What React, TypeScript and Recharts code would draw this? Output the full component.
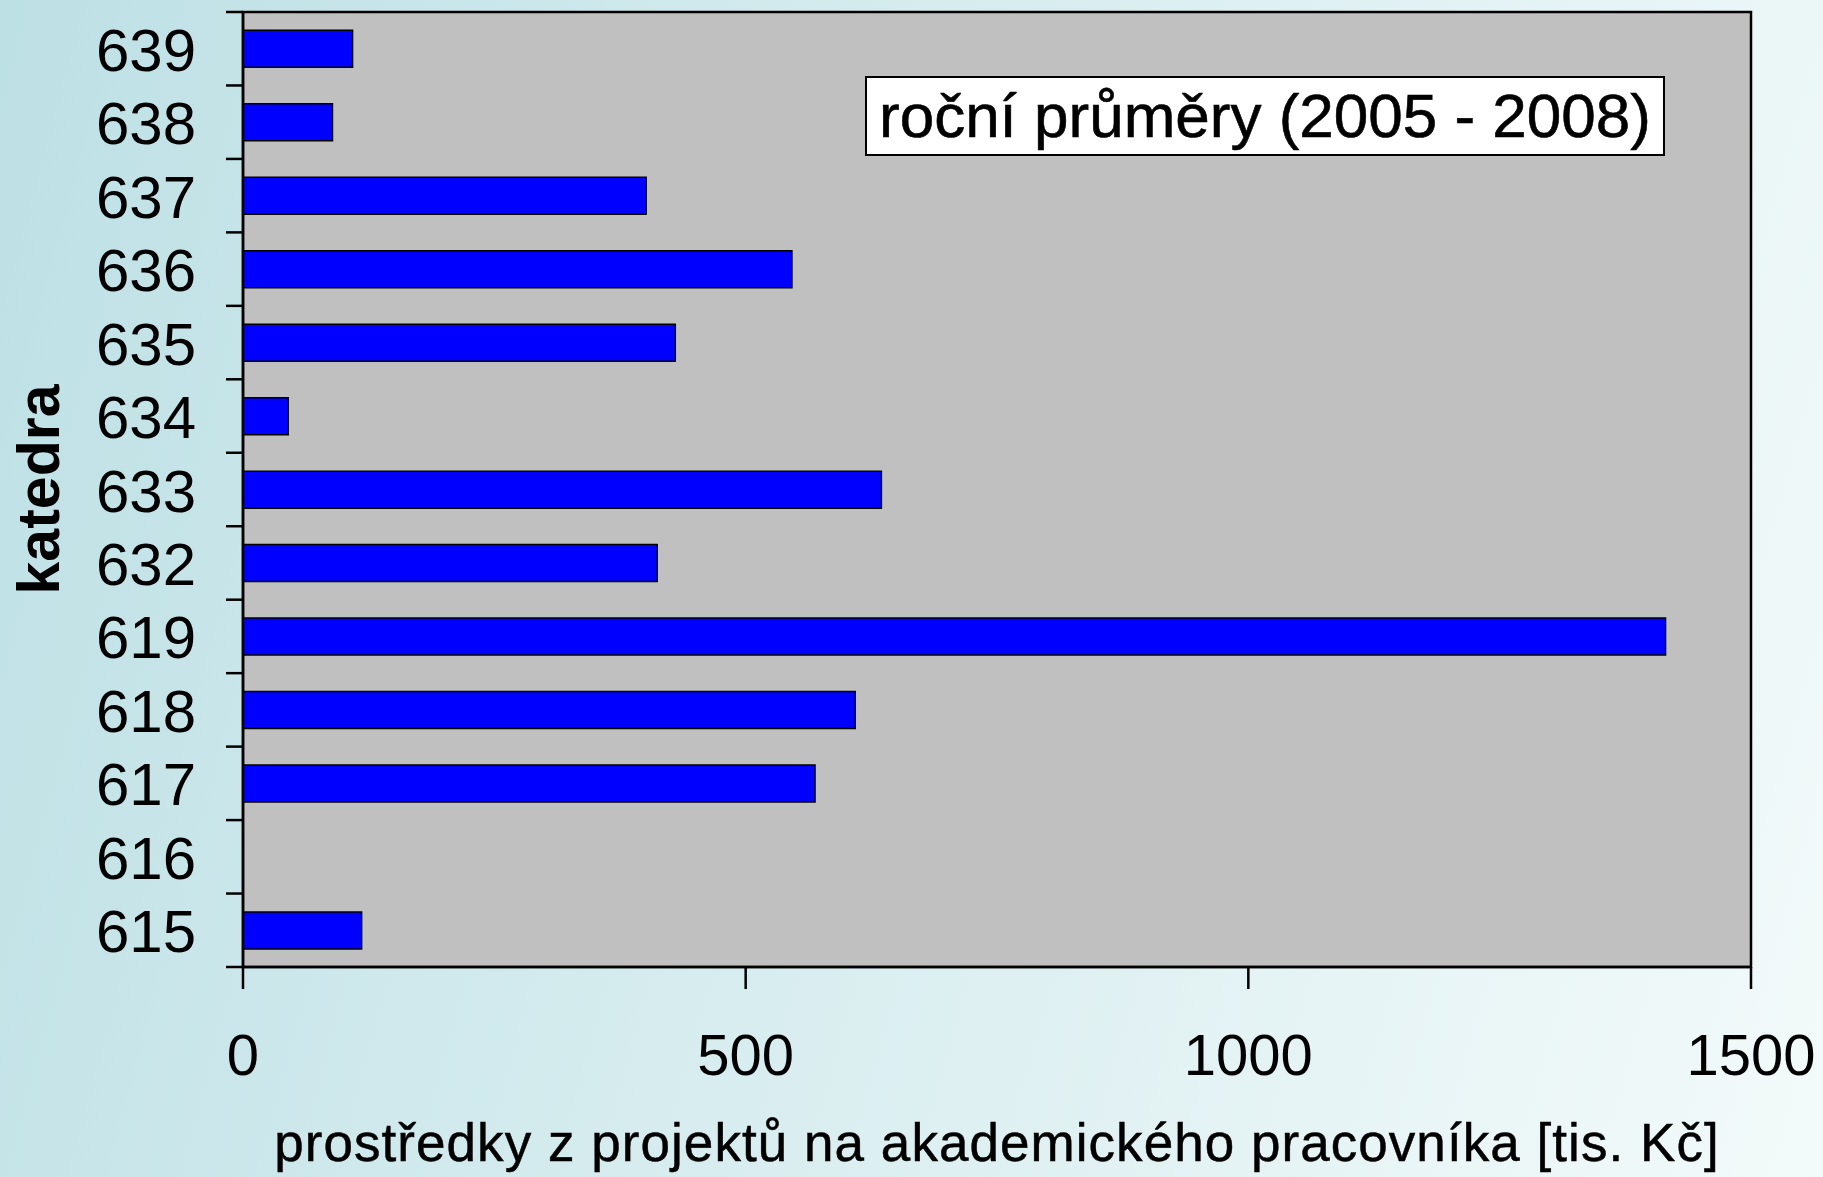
import { BarChart, Bar, XAxis, YAxis, CartesianGrid, ReferenceArea } from 'recharts';

const katedry = ['639', '638', '637', '636', '635', '634', '633', '632', '619', '618', '617', '616', '615'];
const prumery = [109, 89, 401, 546, 430, 45, 635, 412, 1415, 609, 569, 0, 118];
const xTicks = [0, 500, 1000, 1500];

const data = katedry.map((k, i) => ({ katedra: k, value: prumery[i] }));

const W = 1823;
const H = 1177;
const M = { top: 12, right: 72, bottom: 0, left: 0 };
const Y_AXIS_W = 243;
const X_AXIS_H = 210;
const plotH = H - M.top - X_AXIS_H;
const halfBand = plotH / katedry.length / 2;
const FONT = 'Arial, "Liberation Sans", sans-serif';

function CatTick(props: any) {
  const { y, payload, index } = props;
  const ax = Y_AXIS_W;
  const half = payload?.offset || halfBand;
  const last = index === katedry.length - 1;
  return (
    <g>
      <line x1={ax - 17} x2={ax} y1={y - half} y2={y - half} stroke="#000" strokeWidth={2.5} />
      {last && <line x1={ax - 17} x2={ax} y1={y + half} y2={y + half} stroke="#000" strokeWidth={2.5} />}
      <text x={ax - 47} y={y + 22} textAnchor="end" fontSize={60} fontFamily={FONT} fill="#000">
        {payload.value}
      </text>
    </g>
  );
}

function NumTick(props: any) {
  const { x, y, payload } = props;
  return (
    <text x={x} y={y + 86} textAnchor="middle" fontSize={58} fontFamily={FONT} fill="#000">
      {payload.value}
    </text>
  );
}

export default function App() {
  return (
    <div
      style={{
        position: 'absolute',
        left: 0,
        top: 0,
        width: W,
        height: H,
        background: 'linear-gradient(105deg, #bde0e5 0%, #d4ebee 40%, #f3fafa 100%)',
      }}
    >
      <BarChart
        width={W}
        height={H}
        data={data}
        layout="vertical"
        margin={M}
        barCategoryGap="25%"
      >
        <CartesianGrid fill="#C0C0C0" horizontal={false} vertical={false} />
        <XAxis
          type="number"
          domain={[0, 1500]}
          ticks={xTicks}
          height={X_AXIS_H}
          tick={<NumTick />}
          tickSize={22}
          tickMargin={0}
          axisLine={{ stroke: '#000', strokeWidth: 2.5 }}
          tickLine={{ stroke: '#000', strokeWidth: 2.5 }}
          label={{
            value: 'prostředky z projektů na akademického pracovníka [tis. Kč]',
            position: 'insideBottom',
            offset: 16,
            fontSize: 53,
            fontFamily: FONT,
            fill: '#000',
            stroke: '#000',
            strokeWidth: 0.5,
            letterSpacing: 1.05,
          }}
        />
        <YAxis
          type="category"
          dataKey="katedra"
          width={Y_AXIS_W}
          tick={<CatTick />}
          tickLine={false}
          axisLine={{ stroke: '#000', strokeWidth: 2.5 }}
          label={{
            value: 'katedra',
            angle: -90,
            position: 'insideLeft',
            offset: 38,
            fontSize: 59,
            fontWeight: 'bold',
            fontFamily: FONT,
            fill: '#000',
            style: { textAnchor: 'middle' },
          }}
        />
        <ReferenceArea x1={0} x2={1500} fill="none" stroke="#000" strokeWidth={2.5} ifOverflow="visible" />
        <Bar dataKey="value" fill="#0000FF" stroke="#000" strokeWidth={1.5} isAnimationActive={false} />
      </BarChart>
      <div
        style={{
          position: 'absolute',
          left: 865,
          top: 76,
          width: 800,
          height: 80,
          boxSizing: 'border-box',
          background: '#fff',
          border: '2px solid #000',
          fontFamily: FONT,
          fontSize: 62,
          lineHeight: '76px',
          paddingLeft: 12,
          color: '#000',
          whiteSpace: 'nowrap',
          WebkitTextStroke: '0.6px #000',
        }}
      >
        roční průměry (2005 - 2008)
      </div>
    </div>
  );
}
